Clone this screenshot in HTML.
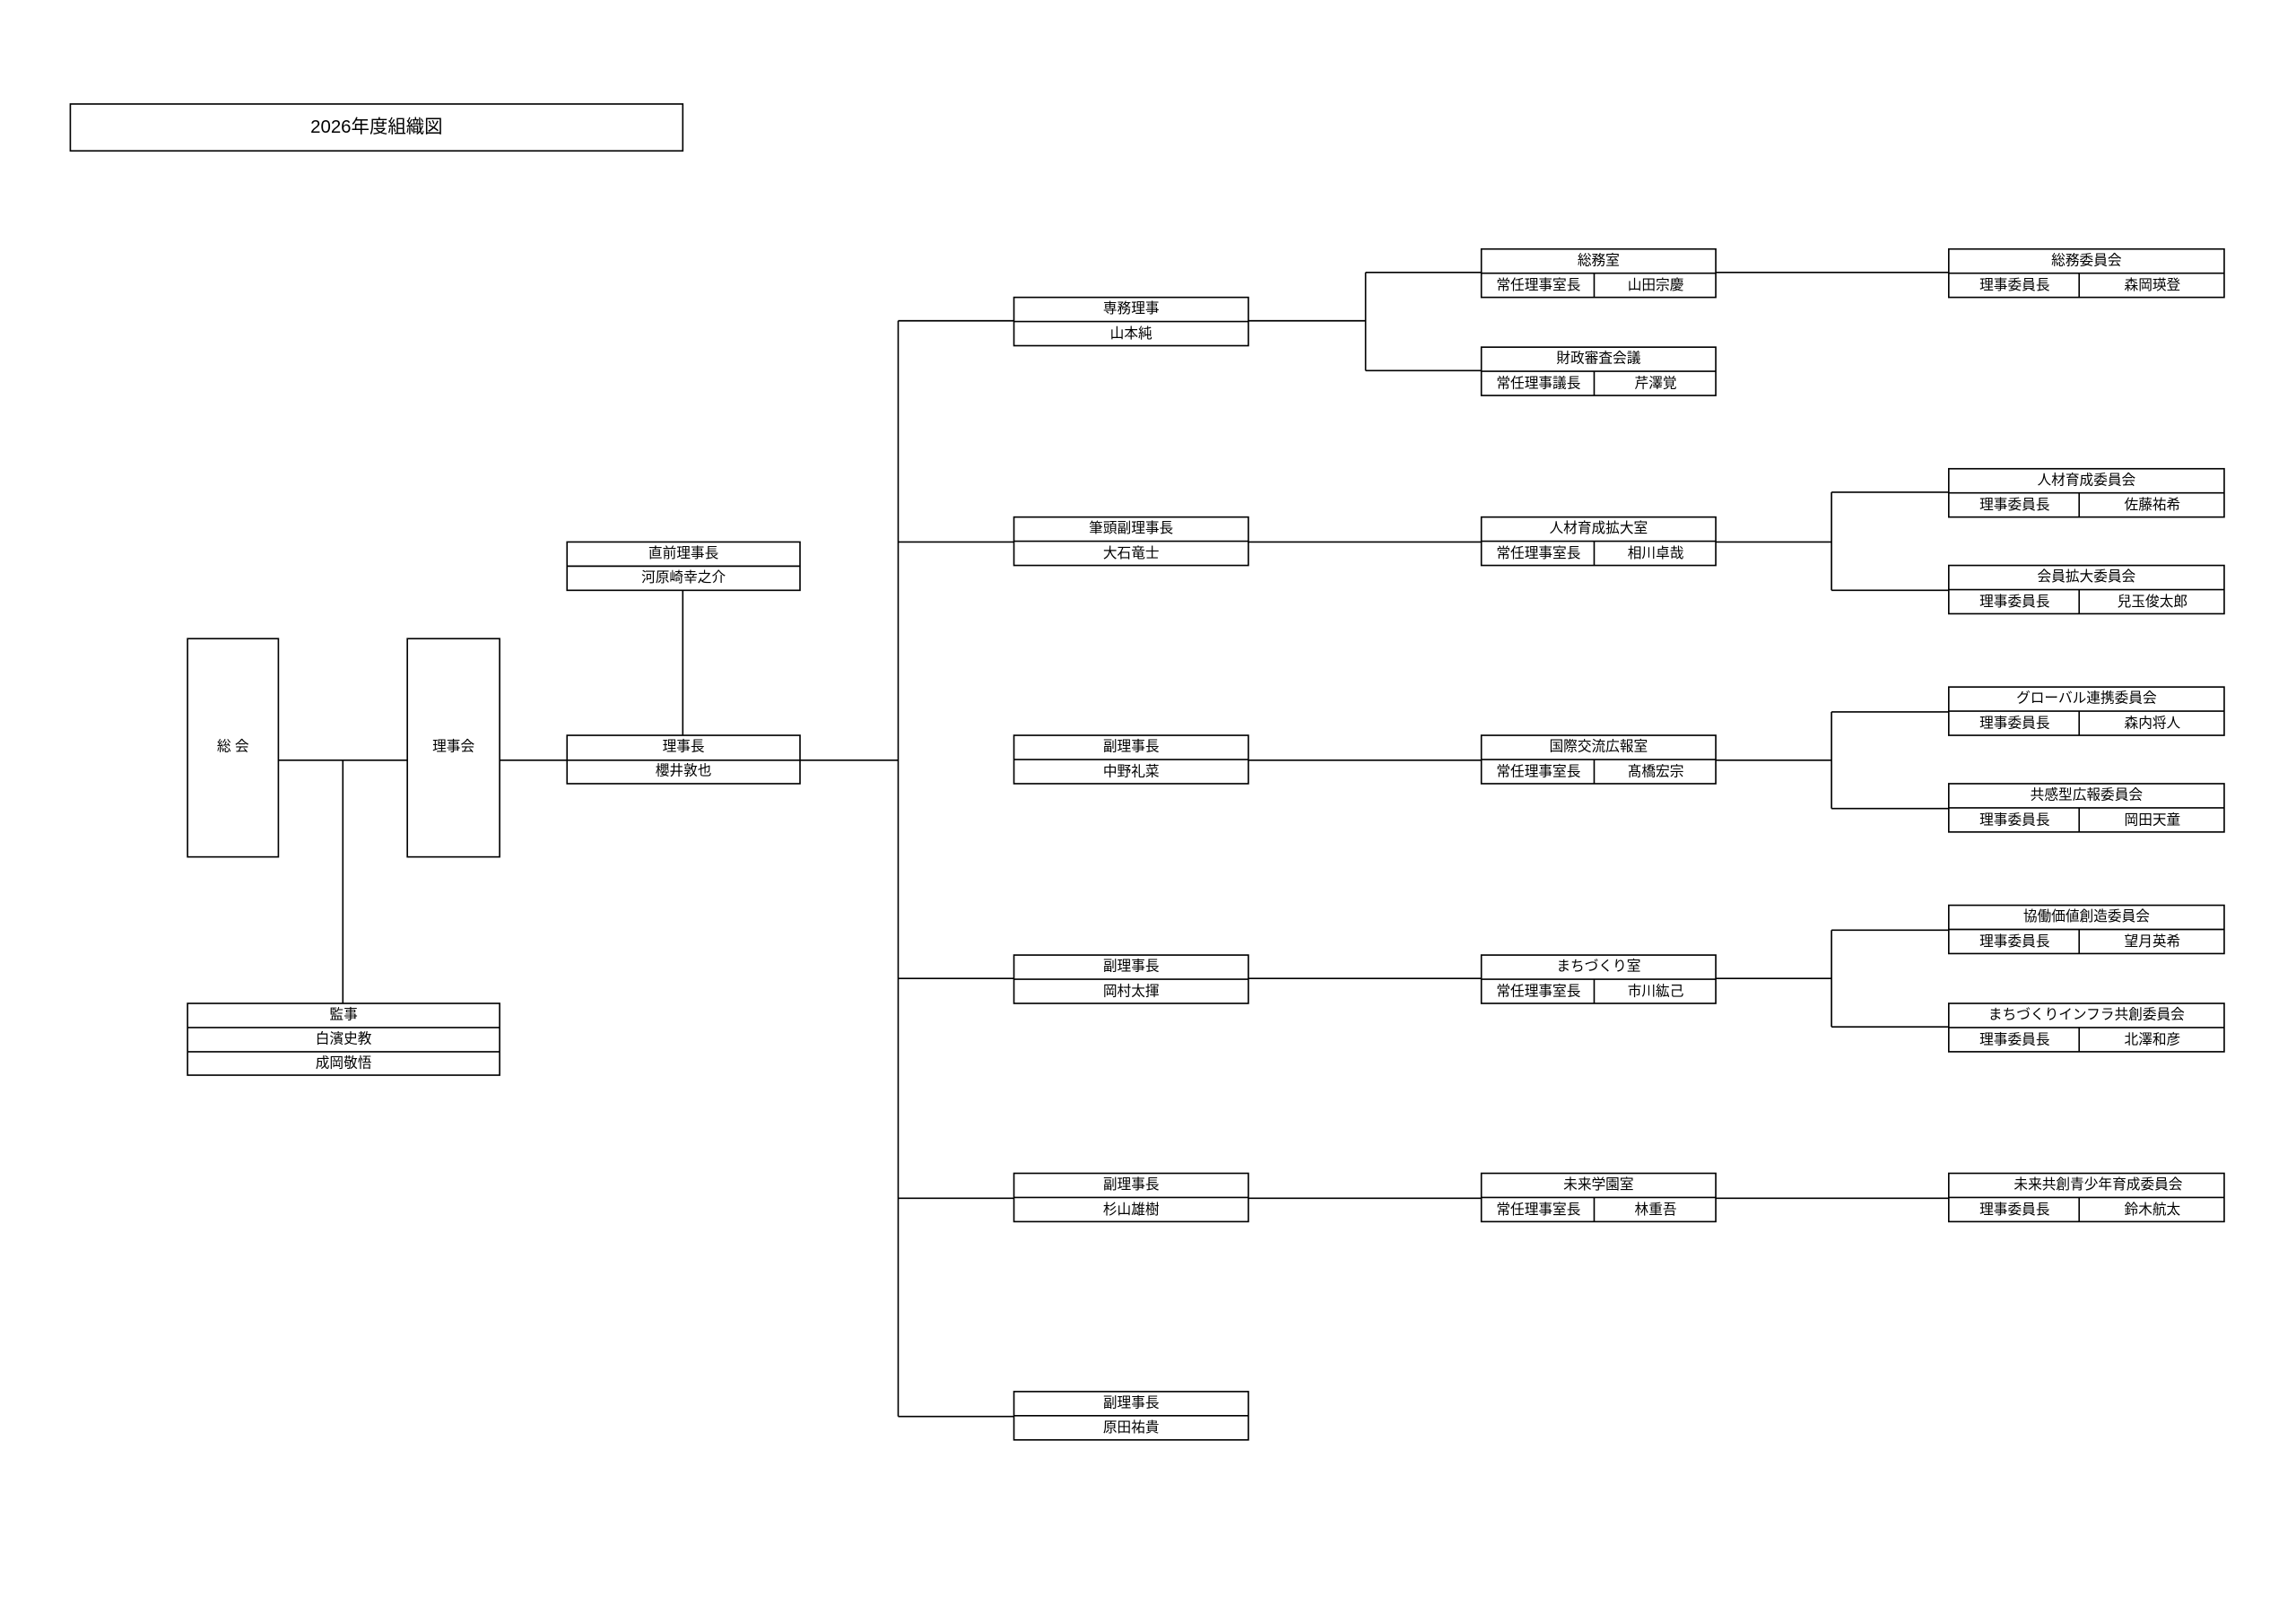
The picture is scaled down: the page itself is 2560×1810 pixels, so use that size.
<!DOCTYPE html>
<html><head><meta charset="utf-8"><style>
html,body{margin:0;padding:0;background:#fff;}
svg{display:block;}
text{font-family:"Liberation Sans","Noto Sans CJK JP",sans-serif;font-size:9.6px;fill:#000;text-anchor:middle;dominant-baseline:central;}
rect,line,polyline{fill:none;stroke:#000;stroke-width:1;}
</style></head><body>
<svg width="2560" height="1810" viewBox="0 0 1567 1108" preserveAspectRatio="none" xmlns="http://www.w3.org/2000/svg">
<rect x="0" y="0" width="1567" height="1108" style="fill:#fff;stroke:none"/>
<rect x="48" y="71" width="418" height="32"/>
<text x="257" y="87" style="font-size:12.5px">2026年度組織図</text>

<rect x="128" y="436" width="62" height="149"/>
<text x="159" y="510">総 会</text>
<rect x="278" y="436" width="63" height="149"/>
<text x="309.5" y="510">理事会</text>
<line x1="190" y1="519" x2="278" y2="519"/>
<line x1="234" y1="519" x2="234" y2="685"/>

<rect x="128" y="685" width="213" height="49"/>
<line x1="128" y1="701.5" x2="341" y2="701.5"/>
<line x1="128" y1="718" x2="341" y2="718"/>
<text x="234.5" y="693">監事</text>
<text x="234.5" y="709.5">白濱史教</text>
<text x="234.5" y="726">成岡敬悟</text>

<rect x="387" y="370" width="159" height="33"/>
<line x1="387" y1="386.5" x2="546" y2="386.5"/>
<text x="466.5" y="378">直前理事長</text>
<text x="466.5" y="394.5">河原崎幸之介</text>
<line x1="466" y1="403" x2="466" y2="502"/>

<rect x="387" y="502" width="159" height="33"/>
<line x1="341" y1="519" x2="613" y2="519"/>
<text x="466.5" y="510">理事長</text>
<text x="466.5" y="526.5">櫻井敦也</text>

<line x1="613" y1="219" x2="613" y2="967"/>
<line x1="613" y1="219" x2="692" y2="219"/>
<line x1="613" y1="370" x2="692" y2="370"/>
<line x1="613" y1="668" x2="692" y2="668"/>
<line x1="613" y1="818" x2="692" y2="818"/>
<line x1="613" y1="967" x2="692" y2="967"/>

<g>
<rect x="692" y="203" width="160" height="33"/><line x1="692" y1="219.5" x2="852" y2="219.5"/>
<text x="772" y="211">専務理事</text><text x="772" y="228">山本純</text>
<rect x="692" y="353" width="160" height="33"/><line x1="692" y1="369.5" x2="852" y2="369.5"/>
<text x="772" y="361">筆頭副理事長</text><text x="772" y="378">大石竜士</text>
<rect x="692" y="502" width="160" height="33"/><line x1="692" y1="518.5" x2="852" y2="518.5"/>
<text x="772" y="510">副理事長</text><text x="772" y="527">中野礼菜</text>
<rect x="692" y="652" width="160" height="33"/><line x1="692" y1="668.5" x2="852" y2="668.5"/>
<text x="772" y="660">副理事長</text><text x="772" y="677">岡村太揮</text>
<rect x="692" y="801" width="160" height="33"/><line x1="692" y1="817.5" x2="852" y2="817.5"/>
<text x="772" y="809">副理事長</text><text x="772" y="826">杉山雄樹</text>
<rect x="692" y="950" width="160" height="33"/><line x1="692" y1="966.5" x2="852" y2="966.5"/>
<text x="772" y="958">副理事長</text><text x="772" y="975">原田祐貴</text>
</g>

<line x1="852" y1="219" x2="932" y2="219"/>
<line x1="932" y1="186" x2="932" y2="253"/>
<line x1="932" y1="186" x2="1011" y2="186"/>
<line x1="932" y1="253" x2="1011" y2="253"/>
<line x1="852" y1="370" x2="1011" y2="370"/>
<line x1="852" y1="519" x2="1011" y2="519"/>
<line x1="852" y1="668" x2="1011" y2="668"/>
<line x1="852" y1="818" x2="1011" y2="818"/>

<g>
<rect x="1011" y="170" width="160" height="33"/><line x1="1011" y1="186.5" x2="1171" y2="186.5"/><line x1="1088" y1="186.5" x2="1088" y2="203"/>
<text x="1091" y="178">総務室</text><text x="1050" y="195">常任理事室長</text><text x="1130" y="195">山田宗慶</text>
<rect x="1011" y="237" width="160" height="33"/><line x1="1011" y1="253.5" x2="1171" y2="253.5"/><line x1="1088" y1="253.5" x2="1088" y2="270"/>
<text x="1091" y="245">財政審査会議</text><text x="1050" y="262">常任理事議長</text><text x="1130" y="262">芹澤覚</text>
<rect x="1011" y="353" width="160" height="33"/><line x1="1011" y1="369.5" x2="1171" y2="369.5"/><line x1="1088" y1="369.5" x2="1088" y2="386"/>
<text x="1091" y="361">人材育成拡大室</text><text x="1050" y="378">常任理事室長</text><text x="1130" y="378">相川卓哉</text>
<rect x="1011" y="502" width="160" height="33"/><line x1="1011" y1="518.5" x2="1171" y2="518.5"/><line x1="1088" y1="518.5" x2="1088" y2="535"/>
<text x="1091" y="510">国際交流広報室</text><text x="1050" y="527">常任理事室長</text><text x="1130" y="527">髙橋宏宗</text>
<rect x="1011" y="652" width="160" height="33"/><line x1="1011" y1="668.5" x2="1171" y2="668.5"/><line x1="1088" y1="668.5" x2="1088" y2="685"/>
<text x="1091" y="660">まちづくり室</text><text x="1050" y="677">常任理事室長</text><text x="1130" y="677">市川紘己</text>
<rect x="1011" y="801" width="160" height="33"/><line x1="1011" y1="817.5" x2="1171" y2="817.5"/><line x1="1088" y1="817.5" x2="1088" y2="834"/>
<text x="1091" y="809">未来学園室</text><text x="1050" y="826">常任理事室長</text><text x="1130" y="826">林重吾</text>
</g>

<line x1="1171" y1="186" x2="1330" y2="186"/>
<line x1="1171" y1="370" x2="1250" y2="370"/>
<line x1="1250" y1="336" x2="1250" y2="403"/>
<line x1="1250" y1="336" x2="1330" y2="336"/>
<line x1="1250" y1="403" x2="1330" y2="403"/>
<line x1="1171" y1="519" x2="1250" y2="519"/>
<line x1="1250" y1="486" x2="1250" y2="552"/>
<line x1="1250" y1="486" x2="1330" y2="486"/>
<line x1="1250" y1="552" x2="1330" y2="552"/>
<line x1="1171" y1="668" x2="1250" y2="668"/>
<line x1="1250" y1="635" x2="1250" y2="701"/>
<line x1="1250" y1="635" x2="1330" y2="635"/>
<line x1="1250" y1="701" x2="1330" y2="701"/>
<line x1="1171" y1="818" x2="1330" y2="818"/>

<g>
<rect x="1330" y="170" width="188" height="33"/><line x1="1330" y1="186.5" x2="1518" y2="186.5"/><line x1="1419" y1="186.5" x2="1419" y2="203"/>
<text x="1424" y="178">総務委員会</text><text x="1375" y="195">理事委員長</text><text x="1469" y="195">森岡瑛登</text>
<rect x="1330" y="320" width="188" height="33"/><line x1="1330" y1="336.5" x2="1518" y2="336.5"/><line x1="1419" y1="336.5" x2="1419" y2="353"/>
<text x="1424" y="328">人材育成委員会</text><text x="1375" y="345">理事委員長</text><text x="1469" y="345">佐藤祐希</text>
<rect x="1330" y="386" width="188" height="33"/><line x1="1330" y1="402.5" x2="1518" y2="402.5"/><line x1="1419" y1="402.5" x2="1419" y2="419"/>
<text x="1424" y="394">会員拡大委員会</text><text x="1375" y="411">理事委員長</text><text x="1469" y="411">兒玉俊太郎</text>
<rect x="1330" y="469" width="188" height="33"/><line x1="1330" y1="485.5" x2="1518" y2="485.5"/><line x1="1419" y1="485.5" x2="1419" y2="502"/>
<text x="1424" y="477">グローバル連携委員会</text><text x="1375" y="494">理事委員長</text><text x="1469" y="494">森内将人</text>
<rect x="1330" y="535" width="188" height="33"/><line x1="1330" y1="551.5" x2="1518" y2="551.5"/><line x1="1419" y1="551.5" x2="1419" y2="568"/>
<text x="1424" y="543">共感型広報委員会</text><text x="1375" y="560">理事委員長</text><text x="1469" y="560">岡田天童</text>
<rect x="1330" y="618" width="188" height="33"/><line x1="1330" y1="634.5" x2="1518" y2="634.5"/><line x1="1419" y1="634.5" x2="1419" y2="651"/>
<text x="1424" y="626">協働価値創造委員会</text><text x="1375" y="643">理事委員長</text><text x="1469" y="643">望月英希</text>
<rect x="1330" y="685" width="188" height="33"/><line x1="1330" y1="701.5" x2="1518" y2="701.5"/><line x1="1419" y1="701.5" x2="1419" y2="718"/>
<text x="1424" y="693">まちづくりインフラ共創委員会</text><text x="1375" y="710">理事委員長</text><text x="1469" y="710">北澤和彦</text>
<rect x="1330" y="801" width="188" height="33"/><line x1="1330" y1="817.5" x2="1518" y2="817.5"/><line x1="1419" y1="817.5" x2="1419" y2="834"/>
<text x="1432" y="809">未来共創青少年育成委員会</text><text x="1375" y="826">理事委員長</text><text x="1469" y="826">鈴木航太</text>
</g>
</svg>
</body></html>
